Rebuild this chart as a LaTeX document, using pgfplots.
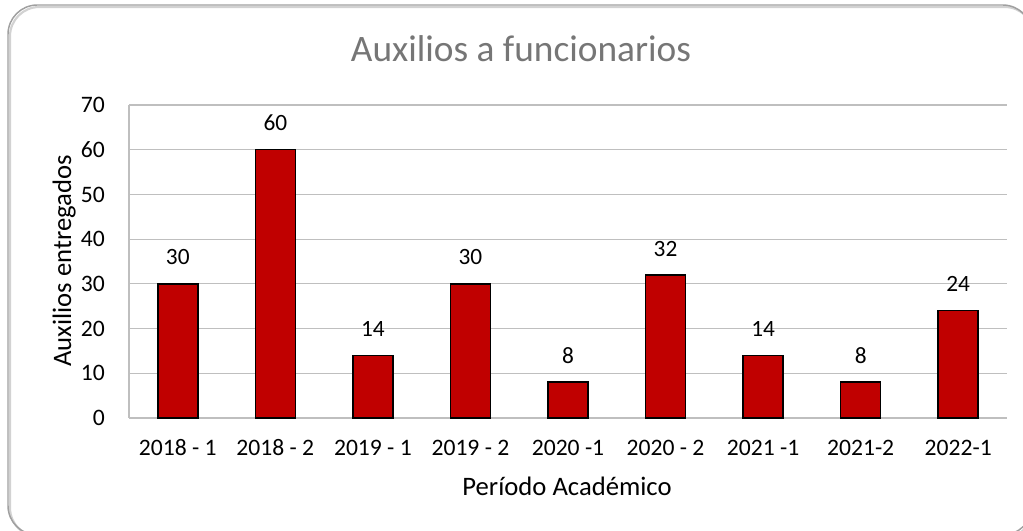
\documentclass[border=0pt]{standalone}
\usepackage{fontspec}
\setmainfont{Carlito}
\usepackage{pgfplots}
\pgfplotsset{compat=1.18}
\definecolor{barred}{RGB}{192,0,0}
\definecolor{gridgray}{RGB}{191,191,191}
\definecolor{titlegray}{RGB}{118,118,118}
\definecolor{framegray}{RGB}{160,160,160}
\begin{document}
\begin{tikzpicture}[x=0.75pt,y=0.75pt]
\clip (0,0) rectangle (1023,531);
\fill[white] (0,0) rectangle (1023,531);
% frame with a light shadow
\draw[gray!35, line width=1.6pt, rounded corners=22pt] (10,-6) rectangle (1034,524);
\draw[framegray, line width=1.1pt, rounded corners=22pt] (8,-4) rectangle (1032,526);
\node[anchor=base, text=titlegray, font=\fontsize{28}{32}\selectfont] at (521,469) {Auxilios a funcionarios};
\node[anchor=base, rotate=90, font=\fontsize{20}{24}\selectfont] at (71,270) {Auxilios entregados};
\node[anchor=base, font=\fontsize{20}{24}\selectfont] at (567,35) {Período Académico};
\begin{axis}[
  at={(96.75pt,84.75pt)}, anchor=south west,
  scale only axis, width=658.5pt, height=234.75pt,
  xmin=-0.5, xmax=8.5, ymin=0, ymax=70,
  ytick={0,10,...,70},
  xtick={0,...,8},
  xticklabels={2018 - 1,2018 - 2,2019 - 1,2019 - 2,2020 -1,2020 - 2,2021 -1,2021-2,2022-1},
  axis x line*=bottom, axis y line*=left,
  axis line style={gridgray, line width=0.9pt, -},
  ymajorgrids, grid style={gridgray, line width=0.9pt},
  major tick length=0pt,
  tick label style={font=\fontsize{17.7}{21}\selectfont},
  /pgf/number format/assume math mode=true,
  xticklabel style={anchor=base, inner sep=0pt, yshift=-28.5pt},
  yticklabel style={anchor=east, inner sep=0pt, xshift=-18pt},
  ybar, bar width=30pt,
  nodes near coords,
  every node near coord/.append style={anchor=south, inner sep=0pt, yshift=13.5pt, font=\fontsize{17.5}{21}\selectfont, text=black},
  clip=false,
]
\addplot[fill=barred, draw=black, line width=1.1pt] coordinates {
  (0,30) (1,60) (2,14) (3,30) (4,8) (5,32) (6,14) (7,8) (8,24)
};
\end{axis}
\end{tikzpicture}
\end{document}
